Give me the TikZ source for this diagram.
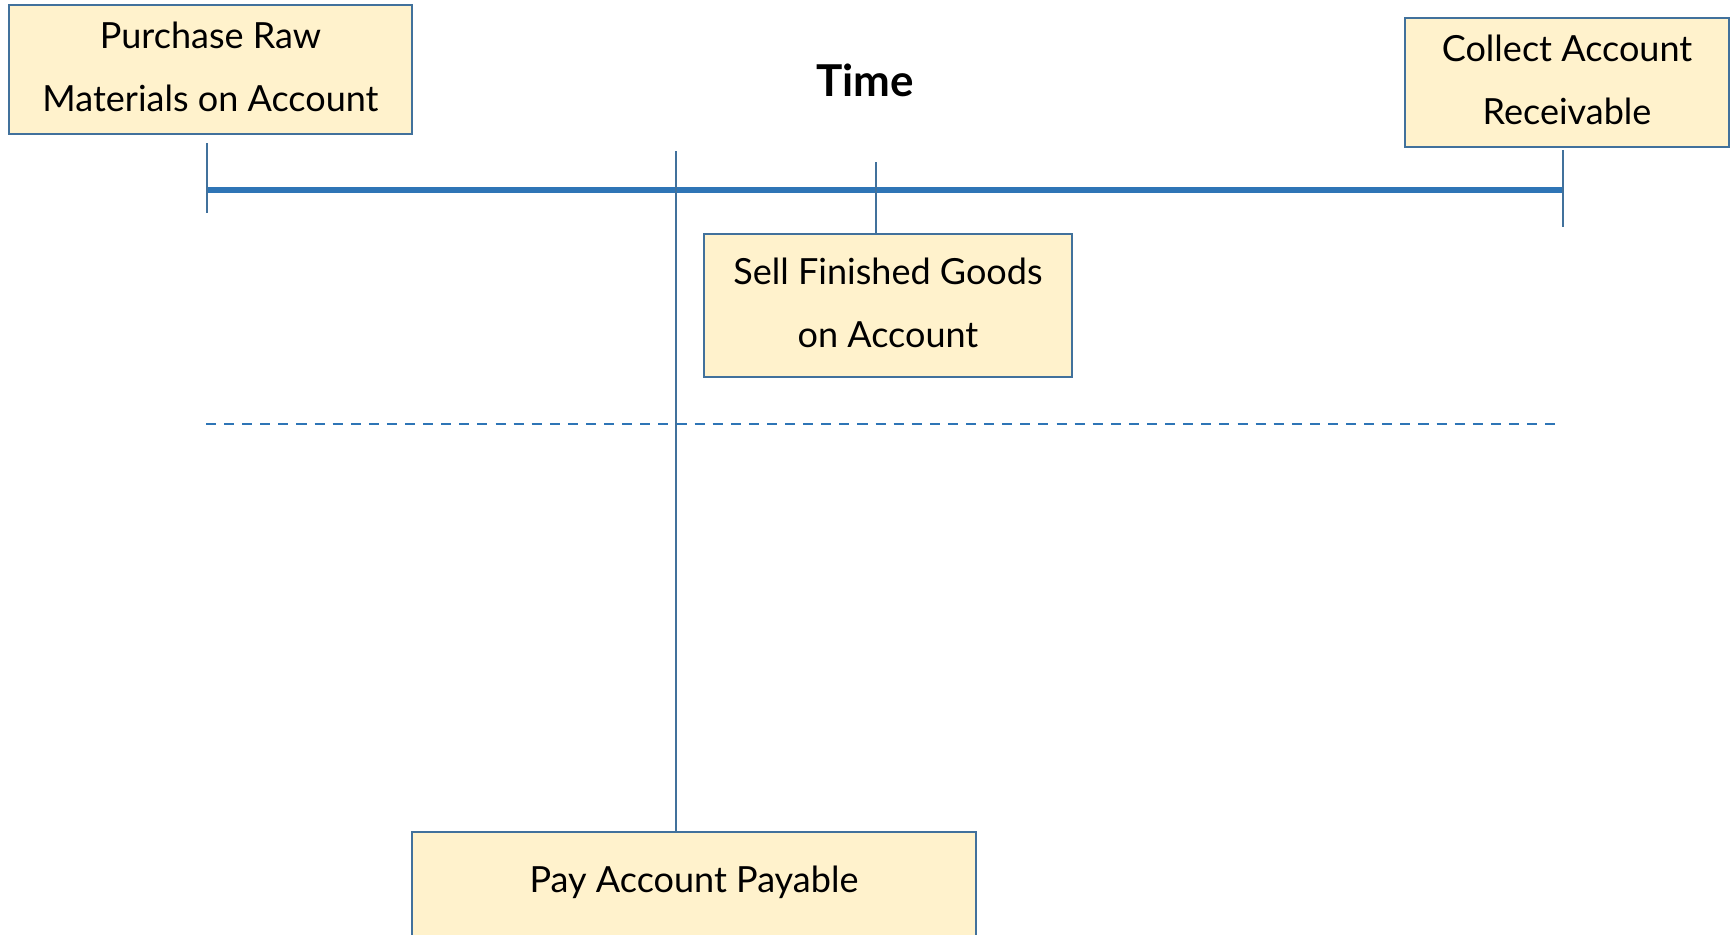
\documentclass[tikz,border=0pt]{standalone}
\usepackage{fontspec}
\setmainfont{Lato}
\usepackage{tikz}
\usetikzlibrary{positioning,calc}
\definecolor{tlblue}{HTML}{2E75B6}
\definecolor{edgeblue}{HTML}{41719C}
\definecolor{boxfill}{HTML}{FFF2CC}

\begin{document}
\begin{tikzpicture}[
      x=0.02cm, y=-0.02cm,
      font=\fontsize{20.5}{36}\selectfont,
      box/.style={draw=edgeblue,line width=1.3pt,fill=boxfill,align=center,inner sep=0pt,text depth=0.12cm},
      timeline/.style={draw=tlblue,line width=2.9pt},
      tick/.style={draw=edgeblue,line width=1.3pt},
      midline/.style={draw=tlblue,line width=1.6pt,dash pattern=on 5.7pt off 4.6pt}
    ]
    \clip (0,0) rectangle (1733,934);
    \node[box,minimum width=8.06cm,minimum height=2.58cm] (buy) at (210.5,69.5) {Purchase Raw\\Materials on Account};
    \node[box,minimum width=6.48cm,minimum height=2.58cm] (collect) at (1567,82.5) {Collect Account\\Receivable};
    \node[box,minimum width=7.36cm,minimum height=2.86cm] (sell) at (888,305.5) {Sell Finished Goods\\on Account};
    \node[box,minimum width=11.28cm,minimum height=2.8cm,text height=0.5cm,text depth=0.9cm,anchor=north] (pay) at (694,831) {Pay Account Payable};
    \node[font=\fontsize{25}{28}\selectfont\bfseries] (time) at (865,80) {Time};
    % time axis
    \coordinate (start) at (207,190);
    \coordinate (finish) at (1562,190);
    \draw[timeline] (start) -- (finish);
    \draw[tick] ($(start)+(0,-47)$) -- ($(start)+(0,23)$);
    \draw[tick] ($(finish)+(1,-40)$) -- ($(finish)+(1,37)$);
    \coordinate (selltick) at (876,162);
    \draw[tick] (selltick) -- (selltick |- sell.north);
    \coordinate (paytick) at (676,151);
    \draw[tick,line width=1.6pt] (paytick) -- (paytick |- pay.north);
    % dashed divider
    \coordinate (divl) at (206,424);
    \coordinate (divr) at (1561,424);
    \draw[midline] (divl) -- (divr);
  \end{tikzpicture}
\end{document}
